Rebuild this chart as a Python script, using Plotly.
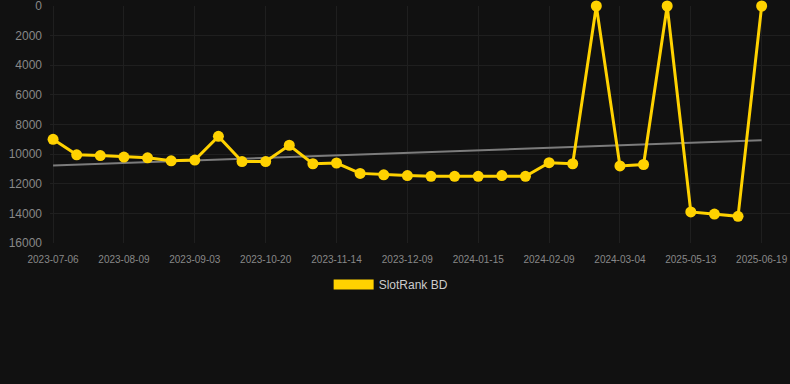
import plotly.graph_objects as go

dates = ["2023-07-06", "2023-07-17", "2023-07-28", "2023-08-09", "2023-08-17", "2023-08-26",
         "2023-09-03", "2023-09-18", "2023-10-04", "2023-10-20", "2023-10-28", "2023-11-06",
         "2023-11-14", "2023-11-22", "2023-12-01", "2023-12-09", "2023-12-21", "2024-01-03",
         "2024-01-15", "2024-01-23", "2024-02-01", "2024-02-09", "2024-02-17", "2024-02-25",
         "2024-03-04", "2024-03-12", "2024-03-20", "2025-05-13", "2025-05-25", "2025-06-07",
         "2025-06-19"]
ranks = [9000, 10050, 10100, 10200, 10250, 10450, 10400, 8800, 10500, 10500, 9400, 10650,
         10600, 11300, 11400, 11450, 11500, 11500, 11500, 11450, 11500, 10580, 10650, 0,
         10800, 10700, 0, 13900, 14050, 14200, 0]
tick_labels = dates[::3]
y_ticks = [0, 2000, 4000, 6000, 8000, 10000, 12000, 14000, 16000]
y_tick_text = [str(v) for v in y_ticks]
series_name = "SlotRank BD"

# linear trend from the data
n = len(ranks)
xs = list(range(n))
mx = sum(xs) / n
my = sum(ranks) / n
slope = sum((x - mx) * (y - my) for x, y in zip(xs, ranks)) / sum((x - mx) ** 2 for x in xs)
trend = [my + slope * (x - mx) for x in xs]

YELLOW = "#FFD200"
BG = "#111111"
GRID = "#1f1f1f"

fig = go.Figure()
fig.add_trace(go.Scatter(
    x=dates, y=trend, mode="lines",
    line=dict(color="#7c7c7c", width=2),
    showlegend=False, hoverinfo="skip", cliponaxis=False,
))
fig.add_trace(go.Scatter(
    x=dates, y=ranks, mode="lines+markers",
    line=dict(color=YELLOW, width=3),
    marker=dict(color=YELLOW, size=11),
    showlegend=False, cliponaxis=False, name=series_name,
))
fig.add_trace(go.Scatter(
    x=[None], y=[None], mode="lines",
    line=dict(color=YELLOW, width=12),
    name=series_name, showlegend=True,
))

fig.update_layout(
    width=790, height=384,
    paper_bgcolor=BG, plot_bgcolor=BG,
    margin=dict(l=50, r=0, t=6, b=141),
    font=dict(family="Arial, Liberation Sans, sans-serif", color="#888888", size=11),
    legend=dict(
        orientation="h", x=0.461, xanchor="center", y=-0.114, yanchor="top",
        font=dict(color="#cccccc", size=12), itemwidth=40,
        bgcolor="rgba(0,0,0,0)",
    ),
    xaxis=dict(
        type="category",
        range=[-0.13, 31.2],
        tickmode="array", tickvals=tick_labels, ticktext=tick_labels,
        tickfont=dict(size=10, color="#888888"),
        showgrid=True, gridcolor=GRID, gridwidth=1,
        zeroline=False, showline=False,
        ticks="", ticklabelstandoff=9, ticklabeloverflow="allow",
    ),
    yaxis=dict(
        range=[16000, 0],
        tickmode="array", tickvals=y_ticks, ticktext=y_tick_text,
        tickfont=dict(size=12, color="#888888"),
        showgrid=True, gridcolor=GRID, gridwidth=1,
        zeroline=False, showline=False,
        ticks="", ticklabelstandoff=7, ticklabeloverflow="allow",
    ),
)

fig.write_html(
    "out.html",
    config={"displayModeBar": False},
    post_script="document.body.style.margin='0';document.body.style.background='#111111';",
)
